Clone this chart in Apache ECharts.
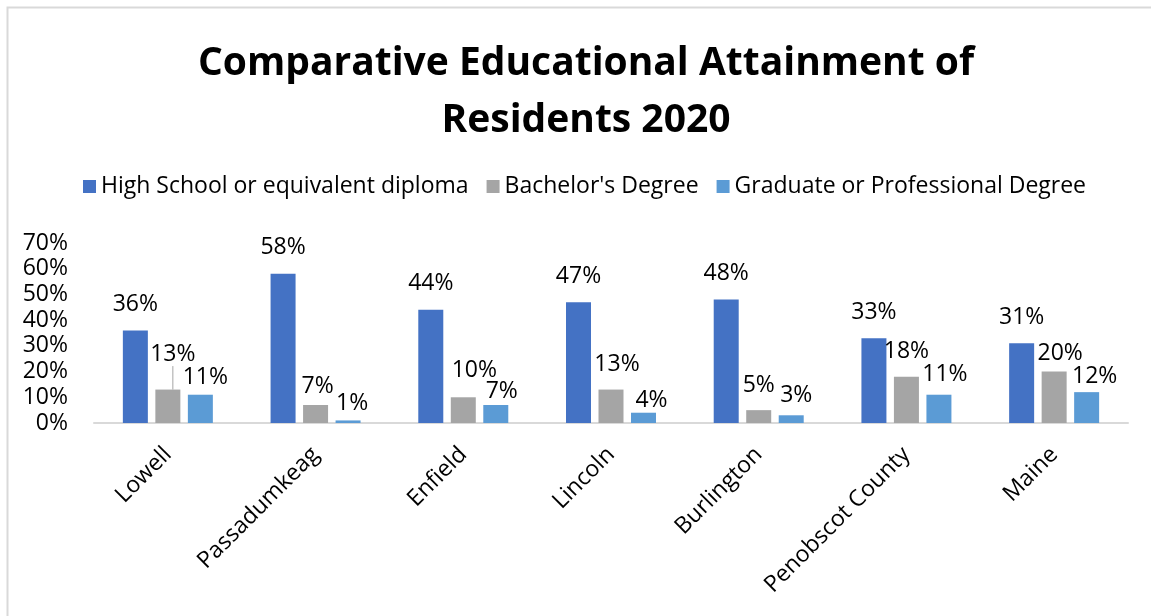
<!DOCTYPE html>
<html>
<head>
<meta charset="utf-8">
<script src="https://cdn.jsdelivr.net/npm/echarts@6/dist/echarts.min.js"></script>
<style>
  html, body { margin: 0; padding: 0; background: #fff; }
  #chart { width: 1151px; height: 616px; }
</style>
</head>
<body>
<div id="chart"></div>
<script>
// Share of residents by highest education level, 2020 (percent)
const categories = ['Lowell', 'Passadumkeag', 'Enfield', 'Lincoln', 'Burlington', 'Penobscot County', 'Maine'];
const highSchool = [36, 58, 44, 47, 48, 33, 31];
const bachelor   = [13, 7, 10, 13, 5, 18, 20];
const graduate   = [11, 1, 7, 4, 3, 11, 12];
const seriesNames = ['High School or equivalent diploma', "Bachelor's Degree", 'Graduate or Professional Degree'];
const yTicks = [0, 10, 20, 30, 40, 50, 60, 70];

// Hand-placed label nudges [dx, dy] per series, per category
const labelShift = [
  [[0, 0], [0, 0], [0, 0], [0, 0], [0, 0], [0, 0], [0, 0]],
  [[5, -9], [2, 7], [11, -1], [6, 1], [0, 1], [0, 1], [6, 8]],
  [[5, 9], [4, 9], [6, 12], [8, 14], [5, 6], [6, 6], [8, 10]]
];
// Labels that keep a leader line back to their bar: [seriesIndex, dataIndex]
const leaderLines = [[1, 0]];

const colors = ['#4472C4', '#A5A5A5', '#5B9BD5'];
const FONT = 'Open Sans';
const TEXT_SIZE = 23;

function buildData(values, sIdx) {
  return values.map((v, i) => {
    const lead = leaderLines.some(p => p[0] === sIdx && p[1] === i);
    return lead
      ? { value: v, labelLine: { show: true, lineStyle: { color: '#A6A6A6', width: 1 } } }
      : v;
  });
}

const chart = echarts.init(document.getElementById('chart'), null, { renderer: 'canvas' });

const seriesValues = [highSchool, bachelor, graduate];

chart.setOption({
  backgroundColor: '#ffffff',
  animation: false,
  color: colors,
  textStyle: { fontFamily: FONT },
  graphic: [{
    type: 'rect',
    left: 5, top: 5,
    shape: { width: 1300, height: 800 },
    style: { fill: 'none', stroke: '#D9D9D9', lineWidth: 2 },
    silent: true,
    z: -10
  }],
  title: {
    text: 'Comparative Educational Attainment of\nResidents 2020',
    left: 581,
    top: 30,
    textAlign: 'center',
    textStyle: {
      fontFamily: FONT,
      fontWeight: 'bold',
      fontSize: 39,
      lineHeight: 57,
      color: '#000'
    }
  },
  legend: {
    data: seriesNames,
    left: 83,
    top: 175,
    padding: 0,
    icon: 'rect',
    itemWidth: 13,
    itemHeight: 13,
    itemGap: 18,
    textStyle: { fontFamily: FONT, fontSize: TEXT_SIZE, color: '#000' }
  },
  grid: { left: 94, right: 23, top: 243, bottom: 193 },
  xAxis: {
    type: 'category',
    data: categories,
    axisTick: { show: false },
    axisLine: { lineStyle: { color: '#D9D9D9', width: 2 } },
    axisLabel: {
      rotate: 45,
      margin: 28,
      padding: 0,
      fontFamily: FONT,
      fontSize: TEXT_SIZE,
      color: '#000',
      interval: 0
    }
  },
  yAxis: {
    type: 'value',
    min: yTicks[0],
    max: yTicks[yTicks.length - 1],
    interval: 10,
    splitLine: { show: false },
    axisLine: { show: false },
    axisTick: { show: false },
    axisLabel: {
      margin: 26,
      fontFamily: FONT,
      fontSize: TEXT_SIZE,
      color: '#000',
      formatter: '{value}%'
    }
  },
  series: seriesValues.map((vals, s) => ({
    name: seriesNames[s],
    type: 'bar',
    data: buildData(vals, s),
    barWidth: 25,
    barGap: '30%',
    label: {
      show: true,
      position: 'top',
      distance: 15,
      fontFamily: FONT,
      fontSize: TEXT_SIZE,
      lineHeight: 22,
      color: '#000',
      formatter: '{c}%'
    },
    labelLayout: (p) => {
      const d = labelShift[p.seriesIndex][p.dataIndex];
      return { dx: d[0], dy: d[1] };
    },
    labelLine: { show: false }
  }))
});
</script>
</body>
</html>
